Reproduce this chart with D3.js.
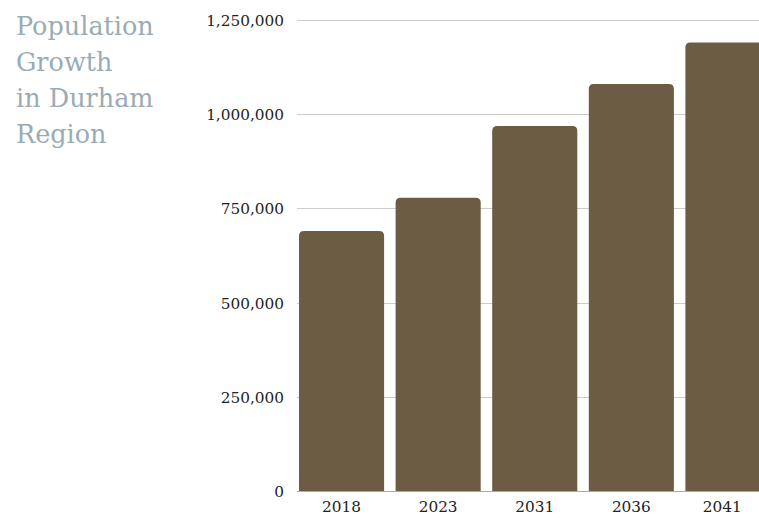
<!DOCTYPE html>
<html>
<head>
<meta charset="utf-8">
<script src="https://cdn.jsdelivr.net/npm/d3@7"></script>
<style>
  body { margin: 0; background: #fff; }
  svg { display: block; }
</style>
</head>
<body>
<div id="main"></div>
<script>
const years = ['2018', '2023', '2031', '2036', '2041'];
const population = [690000, 778000, 969000, 1080000, 1190000];
const yTicks = [0, 250000, 500000, 750000, 1000000, 1250000];
const titleLines = ['Population', 'Growth', 'in Durham', 'Region'];

const W = 759, H = 518;
const font = '"Roboto Slab", "DejaVu Serif", serif';

const svg = d3.select('#main').append('svg')
    .attr('width', W)
    .attr('height', H);

const y = d3.scaleLinear().domain([0, 1250000]).range([491, 20]);
const x = d3.scaleBand().domain(years).range([299, 770.5]).paddingInner(0.119).paddingOuter(0);

// gridlines
svg.append('g')
    .selectAll('line')
    .data(yTicks)
    .enter()
    .append('line')
    .attr('x1', 297)
    .attr('x2', W)
    .attr('y1', d => Math.round(y(d)) + 0.5)
    .attr('y2', d => Math.round(y(d)) + 0.5)
    .attr('stroke', d => d === 0 ? '#aaa' : '#cccccc')
    .attr('stroke-width', 1);

// y labels
svg.append('g')
    .selectAll('text')
    .data(yTicks)
    .enter()
    .append('text')
    .attr('x', 284)
    .attr('y', d => y(d) + 6)
    .attr('text-anchor', 'end')
    .attr('font-family', font)
    .attr('font-size', 15.3)
    .attr('fill', '#222')
    .text(d => d3.format(',')(d));

// bars with rounded top corners
const r = 5;
svg.append('g')
    .selectAll('path')
    .data(population)
    .enter()
    .append('path')
    .attr('fill', '#6b5c43')
    .attr('d', (d, i) => {
        const x0 = x(years[i]), x1 = x0 + x.bandwidth(), y0 = y(d), yb = y(0);
        return `M${x0},${yb}V${y0 + r}Q${x0},${y0} ${x0 + r},${y0}H${x1 - r}Q${x1},${y0} ${x1},${y0 + r}V${yb}Z`;
    });

// x labels (centred on the visible part of each bar)
svg.append('g')
    .selectAll('text')
    .data(years)
    .enter()
    .append('text')
    .attr('x', d => (x(d) + Math.min(x(d) + x.bandwidth(), W)) / 2)
    .attr('y', 512)
    .attr('text-anchor', 'middle')
    .attr('font-family', font)
    .attr('font-size', 15.3)
    .attr('fill', '#222')
    .text(d => d);

// title
svg.append('g')
    .selectAll('text')
    .data(titleLines)
    .enter()
    .append('text')
    .attr('x', 16)
    .attr('y', (d, i) => 35 + i * 36)
    .attr('font-family', font)
    .attr('font-size', 25.5)
    .attr('fill', '#9aabb5')
    .text(d => d);
</script>
</body>
</html>
